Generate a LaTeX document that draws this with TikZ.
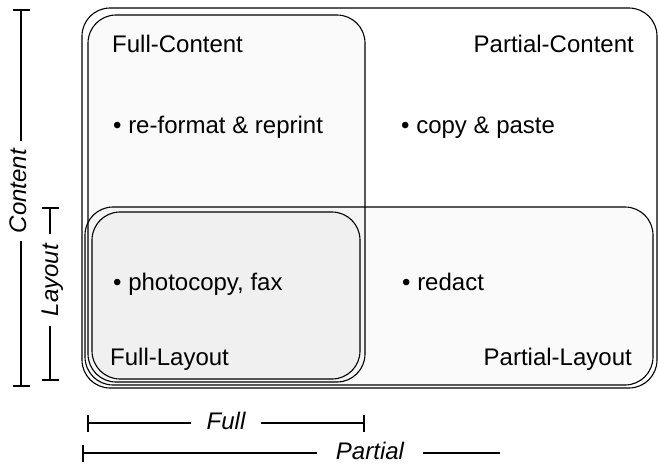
\documentclass[tikz,border=0pt]{standalone}
\usepackage{fontspec}
\setmainfont{Liberation Sans}
\usetikzlibrary{arrows.meta}

\begin{document}
\begin{tikzpicture}[x=1pt, y=-1pt, font=\fontsize{24}{28}\selectfont,
    region/.style={draw, line width=1.1pt, rounded corners=28pt, inner sep=0pt,
      fill=black, fill opacity=0.019, text opacity=1},
    dimbar/.style={line width=1.6pt},
    dimlabel/.style={font=\fontsize{24}{28}\selectfont\itshape, inner xsep=15pt, inner ysep=0pt}]
    \useasboundingbox (0,0) rectangle (658,464);
    % the four regions
    \node[region, fill=white, fill opacity=1, minimum width=575pt, minimum height=380pt] (partcontent) at (369.5,198) {};
    \node[region, minimum width=277pt, minimum height=367pt] (fullcontent) at (226.5,198.5) {};
    \node[region, minimum width=568pt, minimum height=178pt] (partlayout) at (369,296) {};
    \node[region, minimum width=268pt, minimum height=167pt] (fulllayout) at (226,295.5) {};
    % region titles
    \node[anchor=base west, inner sep=0pt] (fctitle) at (112,52) {Full-Content};
    \node[anchor=base east, inner sep=0pt] (pctitle) at (634,52) {Partial-Content};
    \node[anchor=base west, inner sep=0pt] (fltitle) at (110,365) {Full-Layout};
    \node[anchor=base east, inner sep=0pt] (pltitle) at (632,365) {Partial-Layout};
    % examples
    \foreach \x/\y/\name/\txt in {113/133/reprint/re-format \& reprint, 401/133/paste/copy \& paste,
                                  113/290/photocopy/{photocopy, fax}, 402/290/redact/redact} {
      \node[anchor=base west, inner sep=0pt] (\name) at (\x,\y) {\textbullet\ \txt};
    }
    % dimension bars
    \coordinate (contenttop) at (21,9);
    \coordinate (contentbot) at (21,387);
    \node[dimlabel, rotate=90, anchor=base, inner xsep=8pt] (contentlbl) at (26,191) {Content};
    \draw[dimbar, {Bar[width=17pt]}-] (contenttop) -- (contenttop |- contentlbl.east);
    \draw[dimbar, -{Bar[width=17pt]}] (contentbot |- contentlbl.west) -- (contentbot);
    \coordinate (layouttop) at (50,207);
    \coordinate (layoutbot) at (50,381);
    \node[dimlabel, rotate=90, anchor=base, inner xsep=10pt] (layoutlbl) at (58,280) {Layout};
    \draw[dimbar, {Bar[width=17pt]}-] (layouttop) -- (layouttop |- layoutlbl.east);
    \draw[dimbar, -{Bar[width=17pt]}] (layoutbot |- layoutlbl.west) -- (layoutbot);
    \coordinate (fullleft) at (87,423);
    \coordinate (fullright) at (365,423);
    \node[dimlabel, anchor=base] (fulllbl) at (226,429) {Full};
    \draw[dimbar, {Bar[width=17pt]}-] (fullleft) -- (fullleft -| fulllbl.west);
    \draw[dimbar, -{Bar[width=17pt]}] (fullright -| fulllbl.east) -- (fullright);
    \coordinate (partleft) at (82,453);
    \coordinate (partright) at (500,453);
    \node[dimlabel, anchor=base, inner xsep=19pt] (partlbl) at (370,459) {Partial};
    \draw[dimbar, {Bar[width=17pt]}-] (partleft) -- (partleft -| partlbl.west);
    \draw[dimbar] (partright -| partlbl.east) -- (partright);
\end{tikzpicture}
\end{document}
